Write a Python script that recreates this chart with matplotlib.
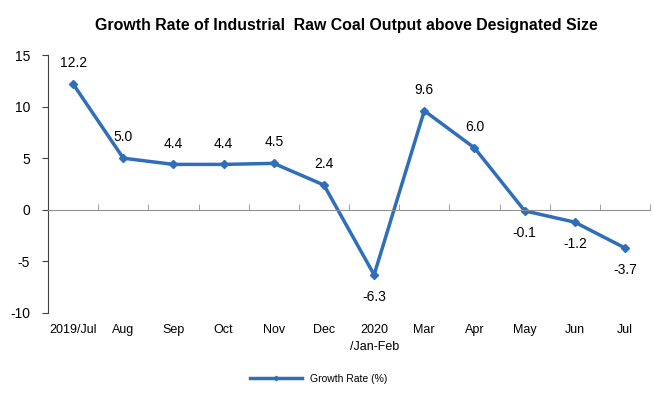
import matplotlib
matplotlib.use("Agg")
from matplotlib import pyplot as plt
from matplotlib.ticker import FixedLocator
import numpy as np

months = ["2019/Jul", "Aug", "Sep", "Oct", "Nov", "Dec", "2020\n/Jan-Feb",
          "Mar", "Apr", "May", "Jun", "Jul"]
growth = [12.2, 5.0, 4.4, 4.4, 4.5, 2.4, -6.3, 9.6, 6.0, -0.1, -1.2, -3.7]
label_above = [True, True, True, True, True, True, False, True, True, False, False, False]

plt.rcParams["font.family"] = ["Liberation Sans", "DejaVu Sans"]
plt.rcParams["axes.unicode_minus"] = False

color = "#2F6EB8"
x = np.arange(len(months))

fig = plt.figure(figsize=(6.54, 3.93), dpi=100)
ax = fig.add_axes([0.0734, 0.2036, 0.9206, 0.6564])

ax.plot(x, growth, color=color, lw=2.5, marker="D", ms=4.5, label="Growth Rate (%)")

# value labels
for xi, yi, up in zip(x, growth, label_above):
    ax.annotate(f"{yi:.1f}", (xi, yi), xytext=(0, 10 if up else -11),
                textcoords="offset points", ha="center",
                va="bottom" if up else "top", fontsize=10)

ax.set_xlim(-0.5, len(months) - 0.5)
ax.set_ylim(-10, 15)
ax.set_yticks([-10, -5, 0, 5, 10, 15])
ax.tick_params(axis="y", direction="out", length=4, width=0.8, pad=9,
               labelsize=10, colors="#404040", labelcolor="black")

# category axis drawn at zero with boundary ticks
ax.spines["top"].set_visible(False)
ax.spines["right"].set_visible(False)
ax.spines["left"].set_color("#404040")
ax.spines["bottom"].set_position(("data", 0))
ax.spines["bottom"].set_color("#909090")
ax.xaxis.set_major_locator(FixedLocator(x))
ax.xaxis.set_minor_locator(FixedLocator(np.arange(len(months) + 1) - 0.5))
ax.tick_params(axis="x", which="major", length=0, labelbottom=False)
ax.tick_params(axis="x", which="minor", direction="in", length=4, color="#909090")

# category labels at the bottom
sec = ax.secondary_xaxis("bottom")
sec.set_xticks(x)
sec.set_xticklabels(months, fontsize=9, linespacing=1.5)
sec.tick_params(length=0, pad=8)
sec.spines["bottom"].set_visible(False)

fig.suptitle("Growth Rate of Industrial  Raw Coal Output above Designated Size",
             x=0.529, y=0.955, fontsize=11.4, fontweight="bold")

ax.legend(loc="upper center", bbox_to_anchor=(0.45, -0.2), frameon=False,
          fontsize=7.5, handlelength=5, markerscale=0.5)

fig.savefig("out.png", dpi=100)
